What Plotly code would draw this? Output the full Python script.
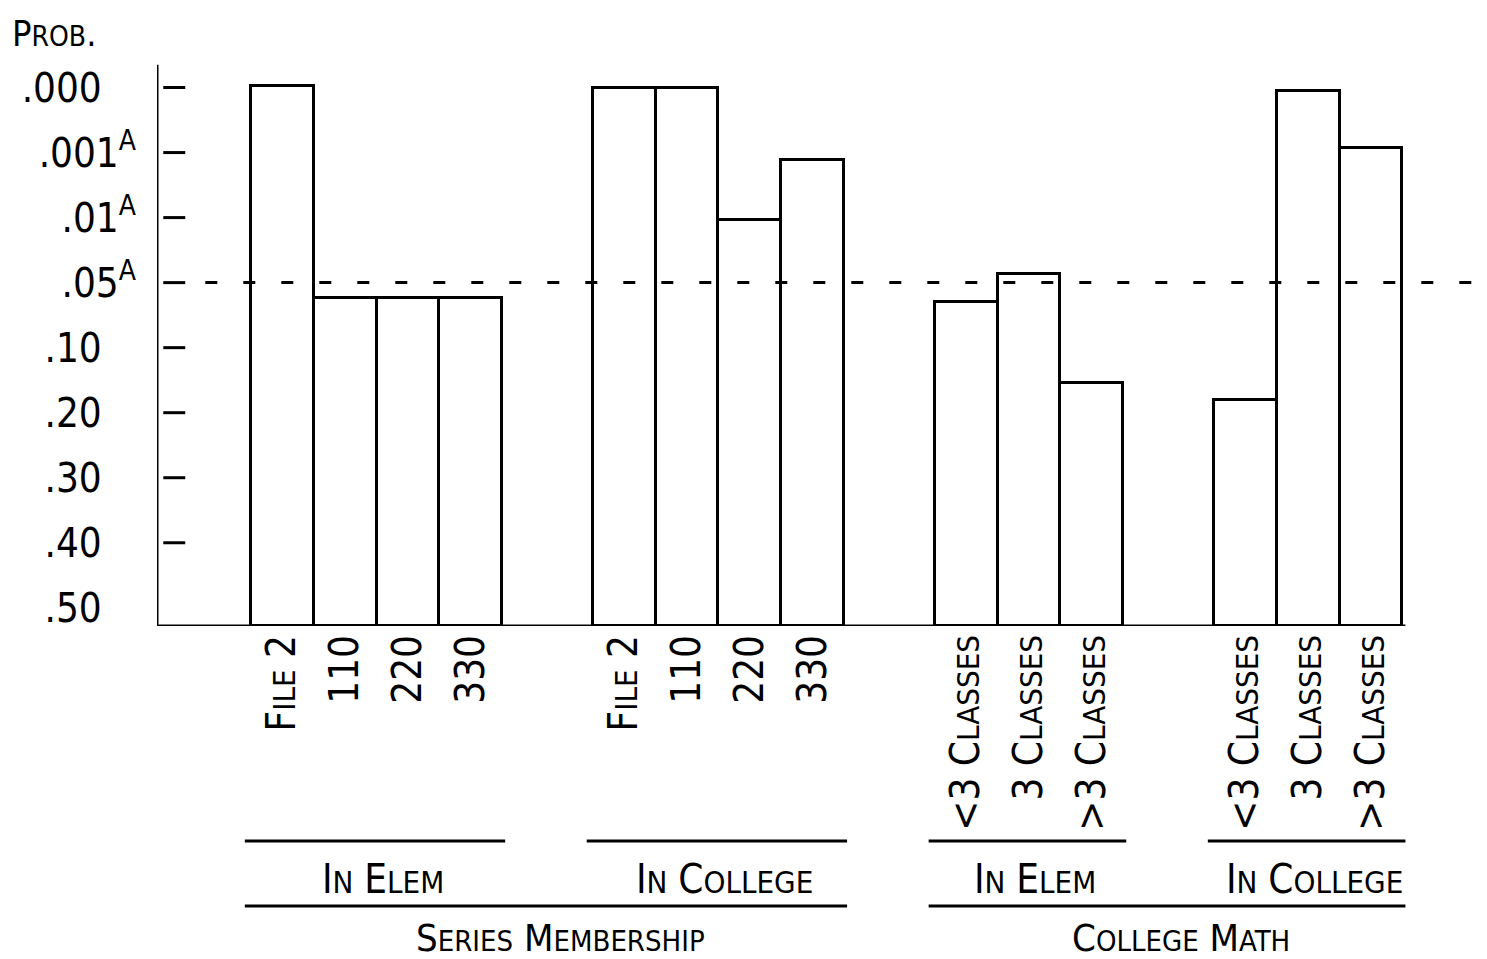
import plotly.graph_objects as go

# ---------------- data ----------------
prob_labels = [".50", ".40", ".30", ".20", ".10", ".05<sup>A</sup>", ".01<sup>A</sup>", ".001<sup>A</sup>", ".000"]
# bar tops expressed on the probability ladder (0 = .50 ... 8 = .000)
series_elem_cats = ["FILE 2", "110", "220", "330"]
series_elem_vals = [8.03, 4.77, 4.77, 4.77]
series_college_cats = ["FILE 2", "110", "220", "330"]
series_college_vals = [8.0, 8.0, 5.97, 6.88]
math_elem_cats = ["<3 CLASSES", "3 CLASSES", ">3 CLASSES"]
math_elem_vals = [4.70, 5.14, 3.45]
math_college_cats = ["<3 CLASSES", "3 CLASSES", ">3 CLASSES"]
math_college_vals = [3.19, 7.95, 7.07]
subgroup_labels = ["IN ELEM", "IN COLLEGE", "IN ELEM", "IN COLLEGE"]
group_labels = ["SERIES MEMBERSHIP", "COLLEGE MATH"]
significance_level = 5  # position of .05 on the ladder
y_title = "PROB."

# ---------------- layout helpers ----------------
FONT = "DejaVu Sans Condensed, DejaVu Sans, sans-serif"
W, H = 1487, 959


def smallcaps(s, big, small):
    out = []
    for word in s.split(" "):
        w = ""
        for i, ch in enumerate(word):
            ch_html = ch.replace("<", "&lt;").replace(">", "&gt;")
            size = small if (i > 0 and ch.isalpha()) else big
            w += '<span style="font-size:%dpx">%s</span>' % (size, ch_html)
        out.append(w)
    return " ".join(out)


def ylabel(t):
    # labels without a superscript get trailing space so digits line up
    return t if "<sup>" in t else t + "&nbsp;&nbsp;&nbsp;"


groups = [
    (series_elem_cats, series_elem_vals),
    (series_college_cats, series_college_vals),
    (math_elem_cats, math_elem_vals),
    (math_college_cats, math_college_vals),
]

BASE = -0.28
GAP = 1.45
first_center = 2.0
xs, ys, texts, spans = [], [], [], []
pos = first_center
for gi, (cats, vals) in enumerate(groups):
    start = pos
    for c, v in zip(cats, vals):
        xs.append(pos)
        ys.append(v - BASE)
        texts.append(smallcaps(c, 40, 31))
        pos += 1
    spans.append((start - 0.5, pos - 0.5))
    pos += GAP

fig = go.Figure()
fig.add_trace(go.Bar(
    x=xs, y=ys, base=BASE, width=1.0,
    marker=dict(color="white", line=dict(color="black", width=3)),
    hoverinfo="skip", showlegend=False,
))

shapes = []
# axis lines
shapes.append(dict(type="line", xref="x", yref="y", x0=0, x1=0, y0=BASE, y1=8.35,
                   line=dict(color="black", width=3)))
shapes.append(dict(type="line", xref="x", yref="y", x0=0, x1=spans[-1][1] + 0.05, y0=BASE, y1=BASE,
                   line=dict(color="black", width=3)))
# tick marks
for lvl in range(1, len(prob_labels)):
    shapes.append(dict(type="line", xref="x", yref="y", x0=0.1, x1=0.45, y0=lvl, y1=lvl,
                       line=dict(color="black", width=3)))
# significance dashed line
shapes.append(dict(type="line", xref="x", yref="y", x0=0.77, x1=21.2,
                   y0=significance_level, y1=significance_level,
                   line=dict(color="black", width=3, dash="12px,26px")))

L, T, B = 157, 42, 333
PLOT_BOTTOM_PX, PLOT_H, PLOT_W = H - B, H - T - B, W - L


def py(p):
    return (PLOT_BOTTOM_PX - p) / PLOT_H


def px(p):
    return (p - L) / PLOT_W


annotations = []
for i, (x0, x1) in enumerate(spans):
    shapes.append(dict(type="line", xref="x", yref="paper", x0=x0 - 0.1, x1=x1 + 0.05,
                       y0=py(841), y1=py(841), line=dict(color="black", width=3)))
    annotations.append(dict(x=(x0 + x1) / 2 + 0.1, y=py(879), xref="x", yref="paper",
                            text=smallcaps(subgroup_labels[i], 40, 31), showarrow=False,
                            xanchor="center", yanchor="middle"))
for j in range(2):
    x0 = spans[2 * j][0]
    x1 = spans[2 * j + 1][1]
    shapes.append(dict(type="line", xref="x", yref="paper", x0=x0 - 0.1, x1=x1 + 0.05,
                       y0=py(906), y1=py(906), line=dict(color="black", width=3)))
    annotations.append(dict(x=(x0 + x1) / 2 + 0.2, y=py(938), xref="x", yref="paper",
                            text=smallcaps(group_labels[j], 38, 29), showarrow=False,
                            xanchor="center", yanchor="middle"))

annotations.append(dict(x=px(10), y=py(33), xref="paper", yref="paper",
                        text=smallcaps(y_title, 36, 28), showarrow=False,
                        xanchor="left", yanchor="middle"))

fig.update_layout(
    width=W, height=H,
    margin=dict(l=L, r=0, t=T, b=B),
    paper_bgcolor="white", plot_bgcolor="white",
    font=dict(family=FONT, color="black", size=38),
    shapes=shapes, annotations=annotations,
    bargap=0,
    xaxis=dict(range=[0, 21.2], showgrid=False, zeroline=False, showline=False,
               tickvals=xs, ticktext=texts, tickangle=-90, ticks="",
               tickfont=dict(family=FONT, size=40, color="black")),
    yaxis=dict(range=[BASE, 8.7], showgrid=False, zeroline=False, showline=False,
               tickvals=list(range(len(prob_labels))),
               ticktext=[ylabel(t) for t in prob_labels], ticks="",
               ticklabelstandoff=20,
               tickfont=dict(family=FONT, size=40, color="black")),
)

fig.write_html("out.html", config={"displayModeBar": False},
               post_script="document.body.style.margin='0';document.body.style.overflow='hidden';")
